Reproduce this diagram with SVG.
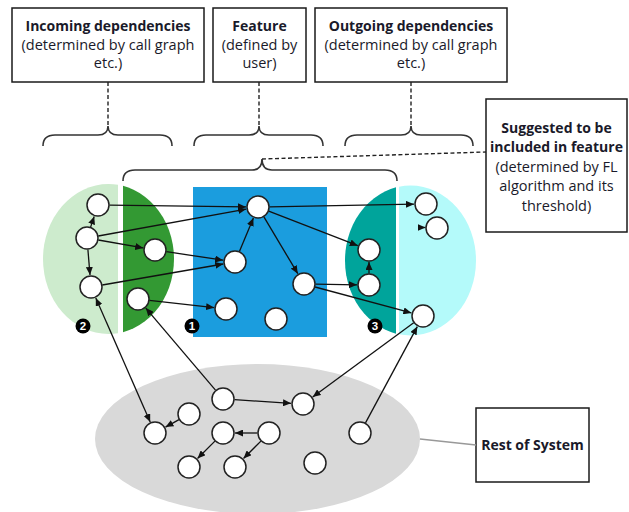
<svg xmlns="http://www.w3.org/2000/svg" width="629" height="512" viewBox="0 0 629 512">
  <style>
    .box { fill: #ffffff; stroke: #1a1a1a; stroke-width: 1.5; }
    .lbl { font-family: "Open Sans", "Liberation Sans", sans-serif; font-size: 14.5px; fill: #1a1a2a; text-anchor: middle; }
    .b { font-weight: bold; font-size: 14px; }
    .brace { fill: none; stroke: #333333; stroke-width: 1.6; }
    .dash { fill: none; stroke: #222222; stroke-width: 1.4; stroke-dasharray: 4 2.5; }
    .node { fill: #ffffff; stroke: #222222; stroke-width: 1.5; }
    .edge { fill: none; stroke: #111111; stroke-width: 1.3; marker-end: url(#arrow); }
    .badge { fill: #000000; }
    .badge-t { font-family: "Liberation Sans", sans-serif; font-weight: bold; font-size: 11.5px; fill: #ffffff; text-anchor: middle; }
  </style>
  <defs>
    <marker id="arrow" markerUnits="userSpaceOnUse" markerWidth="8" markerHeight="7" refX="8" refY="3.5" orient="auto-start-reverse">
      <path d="M0,0 L8,3.5 L0,7 z" fill="#111111"/>
    </marker>
    <clipPath id="clipL1"><rect x="0" y="150" width="118" height="200"/></clipPath>
    <clipPath id="clipL2"><rect x="123" y="150" width="100" height="200"/></clipPath>
    <clipPath id="clipR1"><rect x="300" y="150" width="96" height="200"/></clipPath>
    <clipPath id="clipR2"><rect x="399" y="150" width="100" height="200"/></clipPath>
  </defs>

  <!-- regions -->
  <g id="region-incoming">
    <ellipse cx="108.5" cy="259" rx="65.5" ry="75" fill="#cdebcd" clip-path="url(#clipL1)"/>
    <ellipse cx="108.5" cy="259" rx="65.5" ry="75" fill="#339933" clip-path="url(#clipL2)"/>
  </g>
  <g id="region-feature">
    <rect x="193" y="187" width="134" height="150" fill="#1b9dde"/>
  </g>
  <g id="region-outgoing">
    <ellipse cx="410.5" cy="260.5" rx="65.5" ry="75" fill="#00a49b" clip-path="url(#clipR1)"/>
    <ellipse cx="410.5" cy="260.5" rx="65.5" ry="75" fill="#b4fafa" clip-path="url(#clipR2)"/>
  </g>
  <g id="region-rest">
    <ellipse cx="257.5" cy="439" rx="162.5" ry="75" fill="#d9d9d9"/>
  </g>

  <!-- label boxes -->
  <g id="box-incoming">
    <rect class="box" x="12" y="8" width="192" height="74"/>
    <text class="lbl b" x="108" y="31">Incoming dependencies</text>
    <text class="lbl" x="108" y="49.5">(determined by call graph</text>
    <text class="lbl" x="108" y="68">etc.)</text>
  </g>
  <g id="box-feature">
    <rect class="box" x="213" y="8" width="93" height="74"/>
    <text class="lbl b" x="259.5" y="31">Feature</text>
    <text class="lbl" x="259.5" y="49.5">(defined by</text>
    <text class="lbl" x="259.5" y="68">user)</text>
  </g>
  <g id="box-outgoing">
    <rect class="box" x="315" y="8" width="192" height="74"/>
    <text class="lbl b" x="411" y="31">Outgoing dependencies</text>
    <text class="lbl" x="411" y="49.5">(determined by call graph</text>
    <text class="lbl" x="411" y="68">etc.)</text>
  </g>
  <g id="box-suggested">
    <rect class="box" x="486" y="99" width="141" height="133"/>
    <text class="lbl b" x="556.5" y="133">Suggested to be</text>
    <text class="lbl b" x="556.5" y="152">included in feature</text>
    <text class="lbl" x="556.5" y="171.5">(determined by FL</text>
    <text class="lbl" x="556.5" y="191">algorithm and its</text>
    <text class="lbl" x="556.5" y="210.5">threshold)</text>
  </g>
  <g id="box-rest">
    <rect class="box" x="476" y="408" width="113" height="74"/>
    <text class="lbl b" x="532.5" y="450">Rest of System</text>
  </g>

  <!-- braces and leader lines -->
  <g id="braces">
    <path class="brace" d="M43,146 Q43,135 55,135 L98,135 Q108,135 108,126 Q108,135 118,135 L160,135 Q172,135 172,146"/>
    <path class="brace" d="M194,146 Q194,135 206,135 L249,135 Q259,135 259,126 Q259,135 269,135 L311,135 Q323,135 323,146"/>
    <path class="brace" d="M345,146 Q345,135 357,135 L401,135 Q411,135 411,126 Q411,135 421,135 L461,135 Q473,135 473,146"/>
    <path class="brace" d="M123,181 Q123,170 135,170 L252,170 Q262,170 262,159 Q262,170 272,170 L385,170 Q397,170 397,181"/>
    <line class="dash" x1="108" y1="82" x2="108" y2="126"/>
    <line class="dash" x1="259" y1="82" x2="259" y2="126"/>
    <line class="dash" x1="411" y1="82" x2="411" y2="126"/>
    <line class="dash" x1="262" y1="159" x2="486" y2="152" stroke-dasharray="5 3"/>
    <line x1="420" y1="439" x2="476" y2="445" stroke="#999999" stroke-width="1.5"/>
  </g>

  <!-- dependency edges -->
  <g id="connectors">
    <line class="edge" x1="109.5" y1="205.1" x2="246" y2="206.9"/>
    <line class="edge" x1="90.6" y1="227.1" x2="94.2" y2="216.4"/>
    <line class="edge" x1="98.3" y1="236" x2="246.2" y2="209.1"/>
    <line class="edge" x1="98.3" y1="240" x2="143.2" y2="247.9"/>
    <line class="edge" x1="87.9" y1="249.5" x2="90" y2="275"/>
    <line class="edge" x1="166.4" y1="251.7" x2="223.1" y2="260.2"/>
    <line class="edge" x1="102.3" y1="285" x2="223.2" y2="264"/>
    <line class="edge" x1="149.4" y1="300.3" x2="214.1" y2="307.6"/>
    <line class="edge" x1="239.4" y1="251.4" x2="253.4" y2="218.1"/>
    <line class="edge" x1="263.9" y1="216.9" x2="297.8" y2="273.7"/>
    <line class="edge" x1="269.5" y1="206.8" x2="414" y2="204.2"/>
    <line class="edge" x1="268.7" y1="211.2" x2="357.8" y2="245.7"/>
    <line class="edge" x1="369" y1="273.5" x2="369" y2="262"/>
    <line class="edge" x1="315.5" y1="284.2" x2="357" y2="284.8"/>
    <line class="edge" x1="315.1" y1="287" x2="411.4" y2="312.9"/>
    <line class="edge" x1="418" y1="227.5" x2="425.5" y2="227.5"/>
    <line class="edge" x1="413.7" y1="322.8" x2="312.7" y2="396.9"/>
    <line class="edge" x1="365.5" y1="422.9" x2="417.3" y2="326.6"/>
    <line class="edge" x1="95.8" y1="298" x2="150.2" y2="422" marker-start="url(#arrow)"/>
    <line class="edge" x1="215.5" y1="390.2" x2="145.8" y2="308.1"/>
    <line class="edge" x1="234.5" y1="399.7" x2="291" y2="403.3"/>
    <line class="edge" x1="179" y1="419.6" x2="165.5" y2="427.1"/>
    <line class="edge" x1="257.5" y1="433" x2="235" y2="433"/>
    <line class="edge" x1="214.9" y1="441.1" x2="197.5" y2="458.5"/>
    <line class="edge" x1="260.9" y1="441.1" x2="243.5" y2="458.5"/>
  </g>

  <!-- code elements -->
  <g id="n2a"><circle class="node" cx="98" cy="205" r="11"/></g>
  <g id="n2b"><circle class="node" cx="87" cy="238" r="11"/></g>
  <g id="n2c"><circle class="node" cx="91" cy="287" r="11"/></g>
  <g id="g1"><circle class="node" cx="155" cy="250" r="11"/></g>
  <g id="g2"><circle class="node" cx="138" cy="299" r="11"/></g>
  <g id="f1"><circle class="node" cx="258" cy="207" r="11"/></g>
  <g id="f2"><circle class="node" cx="235" cy="262" r="11"/></g>
  <g id="f3"><circle class="node" cx="226" cy="309" r="11"/></g>
  <g id="f4"><circle class="node" cx="276" cy="319" r="11"/></g>
  <g id="f5"><circle class="node" cx="304" cy="284" r="11"/></g>
  <g id="t1"><circle class="node" cx="369" cy="250" r="11"/></g>
  <g id="t2"><circle class="node" cx="369" cy="285" r="11"/></g>
  <g id="c1"><circle class="node" cx="426" cy="204" r="11"/></g>
  <g id="c2"><circle class="node" cx="437" cy="228" r="11"/></g>
  <g id="c3"><circle class="node" cx="423" cy="316" r="11"/></g>
  <g id="r1"><circle class="node" cx="223" cy="399" r="11"/></g>
  <g id="r2"><circle class="node" cx="303" cy="404" r="11"/></g>
  <g id="r3"><circle class="node" cx="189" cy="414" r="11"/></g>
  <g id="r4"><circle class="node" cx="155" cy="433" r="11"/></g>
  <g id="r5"><circle class="node" cx="223" cy="433" r="11"/></g>
  <g id="r6"><circle class="node" cx="269" cy="433" r="11"/></g>
  <g id="r7"><circle class="node" cx="189" cy="467" r="11"/></g>
  <g id="r8"><circle class="node" cx="235" cy="467" r="11"/></g>
  <g id="r9"><circle class="node" cx="315" cy="463" r="11"/></g>
  <g id="r10"><circle class="node" cx="360" cy="433" r="11"/></g>

  <!-- numbered badges -->
  <g id="badge-1"><circle class="badge" cx="192" cy="326" r="7.5"/><text class="badge-t" x="192" y="330">1</text></g>
  <g id="badge-2"><circle class="badge" cx="83" cy="326" r="7.5"/><text class="badge-t" x="83" y="330">2</text></g>
  <g id="badge-3"><circle class="badge" cx="375" cy="326" r="7.5"/><text class="badge-t" x="375" y="330">3</text></g>
</svg>
